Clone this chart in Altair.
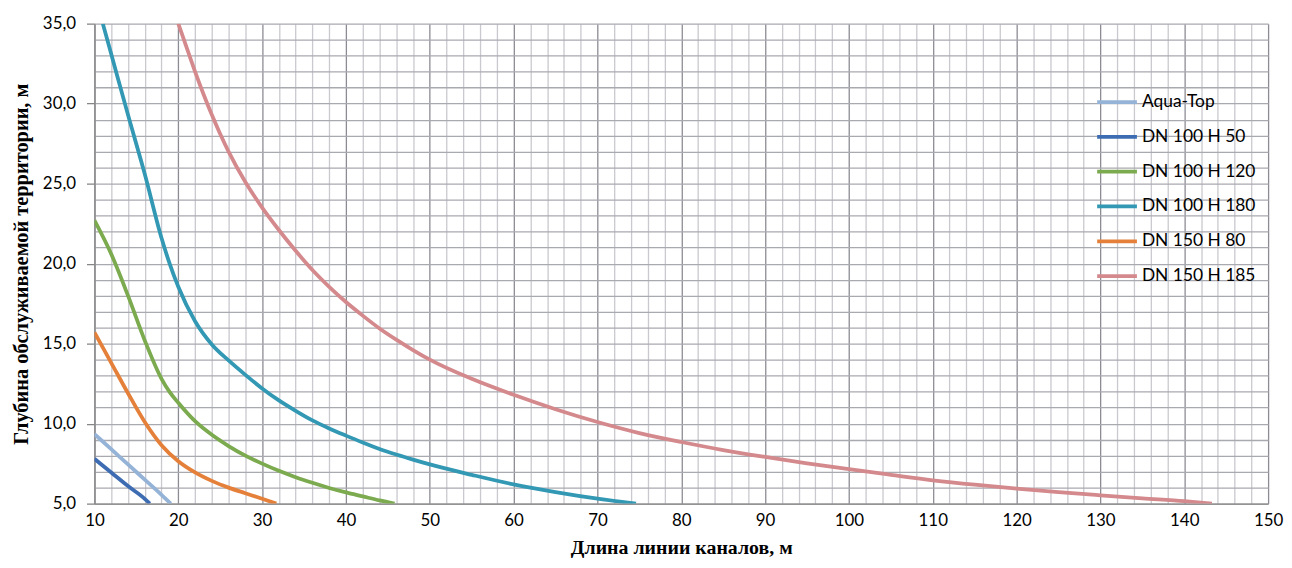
import altair as alt
import pandas as pd

series_names = ["Aqua-Top", "DN 100 H 50", "DN 100 H 120", "DN 100 H 180", "DN 150 H 80", "DN 150 H 185"]
series_colors = ["#95B3D7", "#3D6CB2", "#7BAA4F", "#3298B3", "#E5803A", "#D4898D"]

aqua_x = [10, 12, 14, 16, 18, 19.1]
aqua_y = [9.35, 8.4, 7.45, 6.5, 5.55, 5.0]

dn100h50_x = [10, 12, 14, 16, 16.6]
dn100h50_y = [7.8, 6.95, 6.1, 5.3, 5.0]

dn100h120_x = [10, 12, 14, 16, 18, 19, 20, 22, 24, 26, 28, 30, 32, 34, 36, 38, 40, 42, 44, 45.8]
dn100h120_y = [22.7, 20.6, 18.0, 15.2, 12.8, 11.95, 11.3, 10.15, 9.3, 8.6, 8.0, 7.5, 7.05, 6.65, 6.3, 5.98, 5.7, 5.45, 5.2, 5.0]

dn100h180_x = [11.0, 12, 14, 16, 18, 19, 20, 22, 24, 26, 28, 30, 32, 34, 36, 38, 40, 42, 44, 46, 48, 50, 55, 60, 65, 70, 74.6]
dn100h180_y = [35.0, 33.1, 29.3, 25.6, 21.6, 19.95, 18.55, 16.4, 14.95, 13.95, 13.05, 12.2, 11.45, 10.8, 10.2, 9.7, 9.25, 8.82, 8.42, 8.07, 7.75, 7.45, 6.8, 6.2, 5.72, 5.31, 5.0]

dn150h80_x = [10, 12, 14, 16, 18, 20, 22, 24, 26, 28, 30, 31.7]
dn150h80_y = [15.7, 13.8, 11.9, 10.1, 8.65, 7.65, 6.95, 6.42, 6.0, 5.65, 5.3, 5.0]

dn150h185_x = [20, 21, 22, 23, 24, 25, 26, 28, 30, 32, 34, 36, 38, 40, 42, 44, 46, 48, 50, 55, 60, 65, 70, 75, 80, 85, 90, 95, 100, 105, 110, 115, 120, 125, 130, 135, 140, 143.3]
dn150h185_y = [35.0, 33.5, 32.0, 30.6, 29.3, 28.1, 27.0, 25.1, 23.5, 22.1, 20.8, 19.6, 18.55, 17.6, 16.75, 15.95, 15.25, 14.6, 14.0, 12.8, 11.8, 10.9, 10.1, 9.41, 8.85, 8.35, 7.92, 7.52, 7.15, 6.8, 6.46, 6.18, 5.94, 5.72, 5.52, 5.33, 5.15, 5.0]

x_ticks = list(range(10, 151, 2))
y_ticks = list(range(5, 36, 1))

all_x = [aqua_x, dn100h50_x, dn100h120_x, dn100h180_x, dn150h80_x, dn150h185_x]
all_y = [aqua_y, dn100h50_y, dn100h120_y, dn100h180_y, dn150h80_y, dn150h185_y]

rows = []
for name, xs, ys in zip(series_names, all_x, all_y):
    for xv, yv in zip(xs, ys):
        rows.append({"series": name, "x": xv, "y": yv})
df = pd.DataFrame(rows)

label_font = "Lato"
title_font = "Liberation Serif"

chart = alt.Chart(df).mark_line(strokeWidth=3.8, interpolate="monotone", clip=True).encode(
    x=alt.X(
        "x:Q",
        scale=alt.Scale(domain=[10, 150], nice=False, zero=False),
        axis=alt.Axis(
            values=x_ticks,
            title="Длина линии каналов, м",
            titleFont=title_font,
            titleFontSize=20,
            titleFontWeight="bold",
            titleColor="#000000",
            titlePadding=9,
            labelExpr="datum.value % 10 === 0 ? datum.label : ''",
            labelFont=label_font,
            labelFontSize=17,
            labelColor="#000000",
            labelPadding=9,
            labelOverlap=False,
            labelFlush=False,
            ticks=False,
            grid=True,
            gridColor={"condition": {"test": "datum.value % 10 === 0", "value": "#8c8c94"}, "value": "#c9c9cf"},
            gridWidth=1.3,
            domainColor="#868686",
            domainWidth=1.3,
        ),
    ),
    y=alt.Y(
        "y:Q",
        scale=alt.Scale(domain=[5, 35], nice=False, zero=False),
        axis=alt.Axis(
            values=y_ticks,
            title="Глубина обслуживаемой территории, м",
            titleFont=title_font,
            titleFontSize=20.5,
            titleFontWeight="bold",
            titleColor="#000000",
            titlePadding=11,
            labelExpr="datum.value % 5 === 0 ? replace(format(datum.value, '.1f'), '.', ',') : ''",
            labelFont=label_font,
            labelFontSize=17,
            labelColor="#000000",
            labelPadding=11,
            labelOverlap=False,
            labelFlush=False,
            tickSize=8,
            tickColor="#868686",
            tickWidth=1.3,
            tickOpacity={"condition": {"test": "datum.value % 5 === 0", "value": 1}, "value": 0},
            grid=True,
            gridColor="#a9a9b0",
            gridWidth=1.3,
            domainColor="#868686",
            domainWidth=1.3,
        ),
    ),
    color=alt.Color(
        "series:N",
        scale=alt.Scale(domain=series_names, range=series_colors),
        legend=alt.Legend(
            title=None,
            orient="none",
            legendX=1007,
            legendY=57,
            symbolType="stroke",
            symbolStrokeWidth=3.8,
            symbolSize=1600,
            labelFont=label_font,
            labelFontSize=17.5,
            labelColor="#000000",
            labelOffset=3,
            rowPadding=4,
            labelLimit=300,
        ),
    ),
).properties(
    width=1181,
    height=483,
    autosize=alt.AutoSizeParams(type="none"),
    padding={"left": 87, "top": 14, "right": 16, "bottom": 55},
).configure_view(strokeWidth=0)

chart.save("out.html", embed_options={"renderer": "svg", "actions": False})
